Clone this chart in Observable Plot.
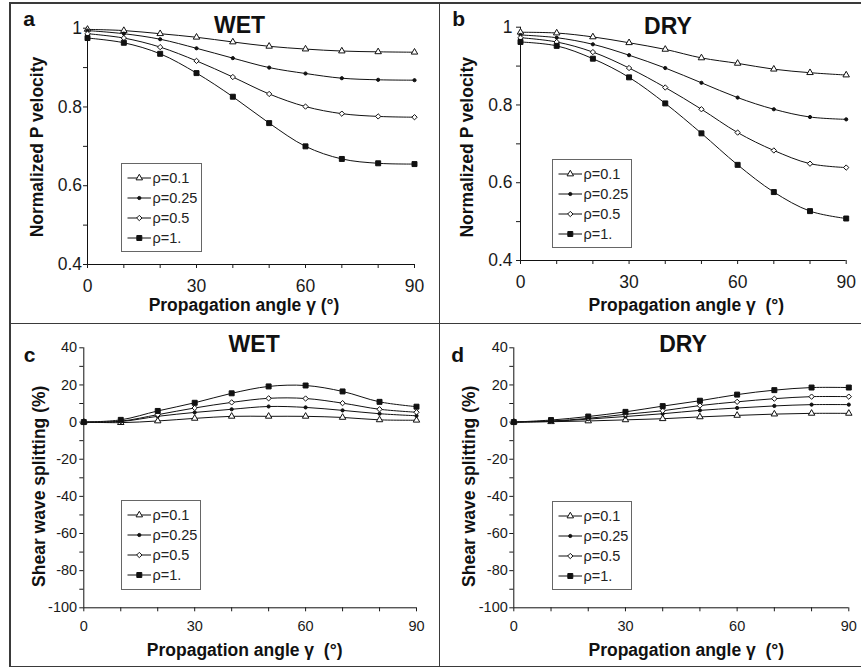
<!DOCTYPE html>
<html><head><meta charset="utf-8">
<script src="https://cdn.jsdelivr.net/npm/d3@7"></script>
<script src="https://cdn.jsdelivr.net/npm/@observablehq/plot@0.6"></script>
<style>
body{margin:0;background:#fff;}
#fig{position:relative;width:861px;height:669px;overflow:hidden;background:#fff;font-family:"Liberation Sans",Arial,sans-serif;}
.pane{position:absolute;}
.pane svg{overflow:visible;}
.ln{position:absolute;background:#3a3a3a;}
.legend{position:absolute;border:1px solid #666;background:#fff;box-sizing:border-box;font-size:14.5px;color:#222;}
.legend .row{position:absolute;left:0;height:20px;width:100%;}
.legend .row svg{position:absolute;left:0;top:0;}
.legend .row span{position:absolute;left:30.5px;top:0;line-height:20px;white-space:nowrap;}
</style></head><body><div id="fig"></div><script>
// ---------------- data ----------------
const angles = [0, 10, 20, 30, 40, 50, 60, 70, 80, 90];
const rhoLabels = ["ρ=0.1", "ρ=0.25", "ρ=0.5", "ρ=1."];

// (a) WET normalized P velocity
const wetP_r01  = [0.997, 0.994, 0.986, 0.977, 0.965, 0.954, 0.947, 0.942, 0.940, 0.939];
const wetP_r025 = [0.994, 0.986, 0.972, 0.949, 0.924, 0.900, 0.885, 0.873, 0.869, 0.868];
const wetP_r05  = [0.986, 0.975, 0.952, 0.917, 0.876, 0.833, 0.801, 0.783, 0.776, 0.774];
const wetP_r1   = [0.975, 0.963, 0.935, 0.886, 0.826, 0.759, 0.700, 0.668, 0.657, 0.655];
// (b) DRY normalized P velocity
const dryP_r01  = [0.987, 0.985, 0.975, 0.960, 0.943, 0.921, 0.907, 0.892, 0.883, 0.877];
const dryP_r025 = [0.980, 0.973, 0.956, 0.928, 0.895, 0.857, 0.819, 0.789, 0.769, 0.763];
const dryP_r05  = [0.973, 0.962, 0.936, 0.895, 0.845, 0.789, 0.729, 0.683, 0.649, 0.639];
const dryP_r1   = [0.962, 0.952, 0.919, 0.871, 0.804, 0.727, 0.646, 0.576, 0.527, 0.508];
// (c) WET shear wave splitting (%)
const wetS_r01  = [0, -0.3, 0.6, 2.0, 3.1, 3.1, 3.1, 2.5, 1.2, 1.0];
const wetS_r025 = [0, 0.3, 3.1, 5.2, 6.9, 8.4, 7.9, 6.3, 4.5, 3.4];
const wetS_r05  = [0, 0.5, 4.0, 7.6, 10.6, 12.8, 12.7, 10.2, 6.9, 5.3];
const wetS_r1   = [0, 1.2, 6.0, 10.4, 15.5, 19.2, 19.7, 16.5, 10.9, 8.3];
// (d) DRY shear wave splitting (%)
const dryS_r01  = [0, 0.2, 0.6, 1.2, 1.8, 2.8, 3.6, 4.3, 4.7, 4.7];
const dryS_r025 = [0, 0.4, 1.6, 3.0, 4.5, 6.3, 7.6, 8.7, 9.4, 9.4];
const dryS_r05  = [0, 0.6, 2.0, 4.2, 6.1, 8.9, 10.9, 12.6, 13.7, 13.7];
const dryS_r1   = [0, 1.1, 3.0, 5.5, 8.6, 11.5, 14.8, 17.2, 18.6, 18.6];

// ticks
const xTicks = [0, 10, 20, 30, 40, 50, 60, 70, 80, 90];
const xTickLabels = [0, 30, 60, 90];
const pTicks = [0.4, 0.5, 0.6, 0.7, 0.8, 0.9, 1];
const pTickLabels = [0.4, 0.6, 0.8, 1];
const sTicks = [-100, -90, -80, -70, -60, -50, -40, -30, -20, -10, 0, 10, 20, 30, 40];
const sTickLabels = [-100, -80, -60, -40, -20, 0, 20, 40];

// ---------------- styles ----------------
const INK = "#111";
const markerStyle = [
  {symbol: d3.symbolTriangle, r: 2.4, fill: "#fff"},
  {symbol: d3.symbolCircle, r: 1.6, fill: INK},
  {symbol: d3.symbolDiamond2, r: 2.4, fill: "#fff"},
  {symbol: d3.symbolSquare, r: 2.8, fill: INK}
];

const panels = [
  {letter: "a", title: "WET", series: [wetP_r01, wetP_r025, wetP_r05, wetP_r1],
   yDomain: [0.4, 1], yTicks: pTicks, yLabels: pTickLabels,
   ylabel: "Normalized P velocity", xlabel: "Propagation angle γ (°)",
   box: {left: 10, top: 3, width: 428, height: 320}, m: {l: 77, r: 24, t: 24.7, b: 59},
   tickFont: 17.5, yPad: 1.5, xPad: 11,
   letterOff: [-64.3, -2.7], titleOff: [-11.5, 5], yLabOff: [-45, 0.7], xLabOff: [-7, 46],
   legend: {left: 121, top: 163, width: 81, height: 89}},
  {letter: "b", title: "DRY", series: [dryP_r01, dryP_r025, dryP_r05, dryP_r1],
   yDomain: [0.4, 1], yTicks: pTicks, yLabels: pTickLabels,
   ylabel: "Normalized P velocity", xlabel: "Propagation angle γ  (°)",
   box: {left: 439, top: 3, width: 422, height: 320}, m: {l: 81, r: 15.3, t: 23.7, b: 63},
   tickFont: 17.5, yPad: 4, xPad: 11,
   letterOff: [-68.3, -1.7], titleOff: [-15.4, 6.6], yLabOff: [-48, 3.4], xLabOff: [3, 50],
   legend: {left: 552, top: 159, width: 80, height: 89}},
  {letter: "c", title: "WET", series: [wetS_r01, wetS_r025, wetS_r05, wetS_r1],
   yDomain: [-100, 40], yTicks: sTicks, yLabels: sTickLabels,
   ylabel: "Shear wave splitting (%)", xlabel: "Propagation angle γ  (°)",
   box: {left: 10, top: 324, width: 428, height: 342}, m: {l: 73.3, r: 22, t: 23.3, b: 58.7},
   tickFont: 14.5, yPad: 2.7, xPad: 8.7,
   letterOff: [-60, 14.4], titleOff: [4, 4.4], yLabOff: [-39.3, 8.5], xLabOff: [-5.5, 47.7],
   legend: {left: 121, top: 500, width: 80, height: 90}},
  {letter: "d", title: "DRY", series: [dryS_r01, dryS_r025, dryS_r05, dryS_r1],
   yDomain: [-100, 40], yTicks: sTicks, yLabels: sTickLabels,
   ylabel: "Shear wave splitting (%)", xlabel: "Propagation angle γ  (°)",
   box: {left: 439, top: 324, width: 422, height: 342}, m: {l: 74.3, r: 12.7, t: 23.3, b: 58.7},
   tickFont: 14.5, yPad: 2, xPad: 8.7,
   letterOff: [-62.6, 14.4], titleOff: [1.7, 4.4], yLabOff: [-38.8, 8.5], xLabOff: [5, 47.7],
   legend: {left: 552, top: 501, width: 80, height: 89}}
];

const fig = document.getElementById("fig");

function addLine(l, t, w, h) {
  const d = document.createElement("div");
  d.className = "ln";
  Object.assign(d.style, {left: l + "px", top: t + "px", width: w + "px", height: h + "px"});
  fig.appendChild(d);
}

for (const p of panels) {
  const seriesRows = p.series.map((arr, k) => angles.map((a, i) => ({angle: a, value: arr[i], rho: rhoLabels[k]})));
  const marks = [
    Plot.ruleX([0], {stroke: INK, strokeWidth: 1}),
    Plot.ruleY([p.yDomain[0]], {stroke: INK, strokeWidth: 1}),
    Plot.axisX({ticks: xTicks, tickFormat: d => xTickLabels.includes(d) ? String(d) : "",
      tickSize: 4, tickPadding: p.xPad, label: null}),
    Plot.axisY({ticks: p.yTicks, tickFormat: d => p.yLabels.includes(d) ? String(d) : "",
      tickSize: 4, tickPadding: p.yPad, label: null}),
    ...seriesRows.map(rows => Plot.line(rows, {x: "angle", y: "value", curve: "catmull-rom", stroke: INK, strokeWidth: 1})),
    ...seriesRows.map((rows, k) => Plot.dot(rows, {x: "angle", y: "value", symbol: markerStyle[k].symbol,
      r: markerStyle[k].r, fill: markerStyle[k].fill, stroke: INK, strokeWidth: 1})),
    Plot.text([p.letter], {frameAnchor: "top-left", textAnchor: "start", lineAnchor: "bottom",
      dx: p.letterOff[0], dy: p.letterOff[1], fontSize: 21, fontWeight: "bold", fill: INK}),
    Plot.text([p.title], {frameAnchor: "top", textAnchor: "middle", lineAnchor: "bottom",
      dx: p.titleOff[0], dy: p.titleOff[1], fontSize: 23, fontWeight: "bold", fill: INK}),
    Plot.text([p.ylabel], {frameAnchor: "left", textAnchor: "middle", rotate: -90, lineAnchor: "bottom",
      dx: p.yLabOff[0], dy: p.yLabOff[1], fontSize: 17.5, fontWeight: "bold", fill: INK}),
    Plot.text([p.xlabel], {frameAnchor: "bottom", textAnchor: "middle", lineAnchor: "bottom",
      dx: p.xLabOff[0], dy: p.xLabOff[1], fontSize: 17.5, fontWeight: "bold", fill: INK})
  ];
  const svg = Plot.plot({
    width: p.box.width, height: p.box.height,
    marginLeft: p.m.l, marginRight: p.m.r, marginTop: p.m.t, marginBottom: p.m.b,
    x: {domain: [0, 90]},
    y: {domain: p.yDomain},
    style: {fontFamily: '"Liberation Sans", Arial, sans-serif', fontSize: p.tickFont + "px", color: "#1a1a1a", background: "transparent", overflow: "visible"},
    marks
  });
  const wrap = document.createElement("div");
  wrap.className = "pane";
  wrap.style.left = p.box.left + "px";
  wrap.style.top = p.box.top + "px";
  wrap.appendChild(svg);
  fig.appendChild(wrap);

  // legend
  const lg = document.createElement("div");
  lg.className = "legend";
  Object.assign(lg.style, {left: p.legend.left + "px", top: p.legend.top + "px",
    width: p.legend.width + "px", height: p.legend.height + "px"});
  rhoLabels.forEach((lab, k) => {
    const row = document.createElement("div");
    row.className = "row";
    row.style.top = (3.5 + k * 20.2) + "px";
    const s = d3.create("svg").attr("width", 32).attr("height", 20);
    s.append("line").attr("x1", 5.5).attr("x2", 29).attr("y1", 10).attr("y2", 10).attr("stroke", INK).attr("stroke-width", 1);
    const ms = markerStyle[k];
    s.append("path").attr("transform", "translate(17.3,10)")
      .attr("d", d3.symbol().type(ms.symbol).size(Math.PI * ms.r * ms.r)())
      .attr("fill", ms.fill).attr("stroke", INK).attr("stroke-width", 1);
    row.appendChild(s.node());
    const sp = document.createElement("span");
    sp.textContent = lab;
    row.appendChild(sp);
    lg.appendChild(row);
  });
  fig.appendChild(lg);
}

// panel frame lines
addLine(9, 2, 1.5, 665);        // left
addLine(9, 2, 852, 1.5);        // top
addLine(9, 665.5, 852, 1.5);    // bottom
addLine(9, 322.5, 852, 1.5);    // middle horizontal
addLine(438.5, 2, 1.5, 665);    // middle vertical
</script></body></html>
